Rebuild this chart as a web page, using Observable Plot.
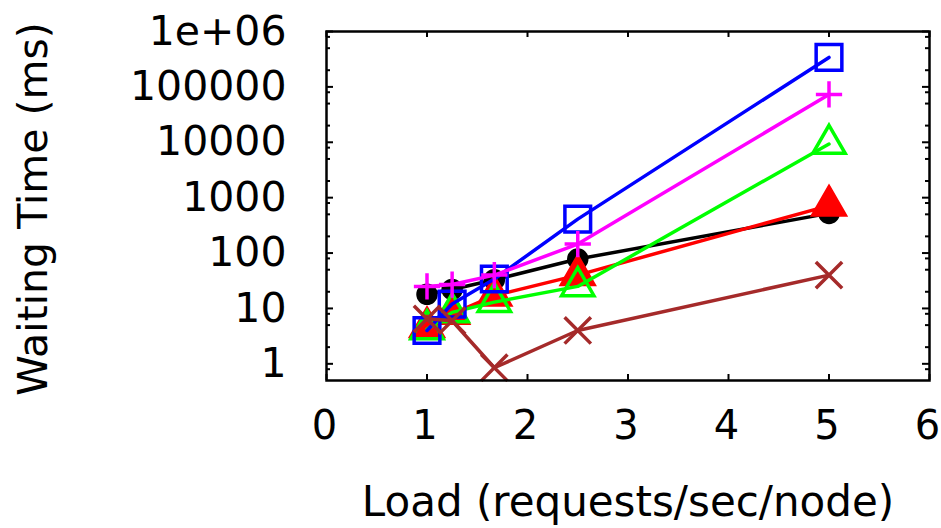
<!DOCTYPE html>
<html><head><meta charset="utf-8">
<script src="https://cdn.jsdelivr.net/npm/d3@7"></script>
<script src="https://cdn.jsdelivr.net/npm/@observablehq/plot@0.6"></script>
<style>body{margin:0;background:#fff}</style>
</head><body><div id="chart"></div>
<script>
// x values: load (requests/sec/node)
const loads = [1, 1.25, 1.67, 2.5, 5];
// waiting time (ms) per series, in plotting order
const seriesBlack   = [18, 22, 33, 78, 520];
const seriesRed     = [4.6, 8, 17, 40, 720];
const seriesGreen   = [4.2, 8.5, 13, 25, 9300];
const seriesBlue    = [4.0, 12, 34, 410, 340000];
const seriesMagenta = [25, 27, 40, 145, 73000];
const seriesBrown   = [6.5, 6, 0.85, 4, 40];

const xTicks = [0, 1, 2, 3, 4, 5, 6];
const yTicks = [1, 10, 100, 1000, 10000, 100000, 1000000];
const yTickLabels = ["1", "10", "100", "1000", "10000", "100000", "1e+06"];
const yMinorTicks = [0.8, 2, 5, 8, 20, 50, 80, 200, 500, 800, 2000, 5000, 8000,
  20000, 50000, 80000, 200000, 500000, 800000];
const yTitle = "Waiting Time (ms)";
const xTitle = "Load (requests/sec/node)";

const W = 941, H = 528, mL = 326, mR = 12, mT = 31, mB = 148;
const pw = W - mL - mR, ph = H - mT - mB;

const styles = [
  {name: "black", values: seriesBlack, color: "#000000", symbol: "circle", fill: true, r: 9},
  {name: "red", values: seriesRed, color: "#ff0000", symbol: "triangle", fill: true, r: 12},
  {name: "green", values: seriesGreen, color: "#00ff00", symbol: "triangle", fill: false, r: 12},
  {name: "blue", values: seriesBlue, color: "#0000ff", symbol: "square", fill: false, r: 14.5},
  {name: "magenta", values: seriesMagenta, color: "#ff00ff", symbol: "plus", fill: false, r: 8.5},
  {name: "brown", values: seriesBrown, color: "#a52a2a", symbol: "times", fill: false, r: 12}
];

const marks = [];
for (const s of styles) {
  const data = loads.map((x, i) => ({x, y: s.values[i]}));
  marks.push(Plot.line(data, {x: "x", y: "y", stroke: s.color, strokeWidth: 3.5}));
  marks.push(Plot.dot(data, {
    x: "x", y: "y", symbol: s.symbol, r: s.r,
    fill: s.fill ? s.color : "none",
    stroke: s.color, strokeWidth: 3.5
  }));
}

const chart = Plot.plot({
  width: W, height: H,
  marginLeft: mL, marginRight: mR, marginTop: mT, marginBottom: mB,
  x: {domain: [0, 6]},
  y: {type: "log", domain: [0.5, 1e6]},
  style: {fontFamily: "DejaVu Sans", background: "white", color: "black"},
  marks: [
    // inward ticks
    Plot.tickX(xTicks, {x: d => d, insetTop: ph - 6, stroke: "black", strokeWidth: 2}),
    Plot.tickX(xTicks, {x: d => d, insetBottom: ph - 6, stroke: "black", strokeWidth: 2}),
    Plot.tickY(yTicks, {y: d => d, insetRight: pw - 7, stroke: "black", strokeWidth: 2}),
    Plot.tickY(yTicks, {y: d => d, insetLeft: pw - 7, stroke: "black", strokeWidth: 2}),
    Plot.tickY(yMinorTicks, {y: d => d, insetRight: pw - 4, stroke: "black", strokeWidth: 2}),
    Plot.tickY(yMinorTicks, {y: d => d, insetLeft: pw - 4, stroke: "black", strokeWidth: 2}),
    ...marks,
    Plot.frame({stroke: "black", strokeWidth: 2.5}),
    Plot.axisX(xTicks, {tickSize: 0, tickPadding: 30, fontSize: 40, dx: -2, tickFormat: d => String(d), label: null}),
    Plot.axisY(yTicks, {tickSize: 0, tickPadding: 40, fontSize: 41,
      tickFormat: d => yTickLabels[yTicks.indexOf(d)], label: null}),
    Plot.text([yTitle], {text: d => d, frameAnchor: "left", textAnchor: "middle", dx: -293, dy: 3, rotate: -90, fontSize: 41}),
    Plot.text([xTitle], {text: d => d, frameAnchor: "bottom", textAnchor: "middle", dy: 135, fontSize: 42})
  ]
});
document.getElementById("chart").appendChild(chart);
</script>
</body></html>
